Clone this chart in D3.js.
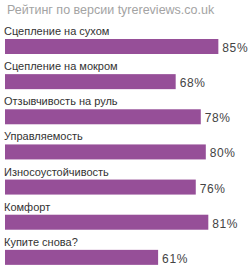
<!DOCTYPE html>
<html>
<head>
<meta charset="utf-8">
<script src="https://cdn.jsdelivr.net/npm/d3@7"></script>
<style>
body { margin:0; background:#fff; }
svg text { font-family: "Liberation Sans", Arial, sans-serif; }
</style>
</head>
<body>
<div id="chart"></div>
<script>
var title = "Рейтинг по версии tyrereviews.co.uk";
var categories = ["Сцепление на сухом", "Сцепление на мокром", "Отзывчивость на руль",
    "Управляемость", "Износоустойчивость", "Комфорт", "Купите снова?"];
var values = [85, 68, 78, 80, 76, 81, 61];

var width = 248, height = 272;

var svg = d3.select("#chart").append("svg")
    .attr("width", width)
    .attr("height", height);

// x: 0..100 percent
var x = d3.scaleLinear().domain([0, 100]).range([5, 256]);
var y = d3.scaleBand().domain(categories).range([28, 274]).paddingInner(0);

svg.append("text")
    .attr("x", 7)
    .attr("y", 14)
    .attr("fill", "#a3a3a3")
    .style("font-size", "12.5px")
    .text(title);

var row = svg.selectAll(".row")
    .data(categories)
    .enter()
    .append("g")
    .attr("class", "row")
    .attr("transform", function(d) { return "translate(0," + y(d) + ")"; });

row.append("text")
    .attr("x", 4)
    .attr("y", 7)
    .attr("fill", "#333")
    .style("font-size", "11px")
    .text(function(d) { return d; });

row.append("rect")
    .attr("x", x(0))
    .attr("y", 11)
    .attr("height", 15)
    .attr("width", function(d, i) { return x(values[i]) - x(0); })
    .attr("fill", "#964f98");

row.append("text")
    .attr("x", function(d, i) { return x(values[i]) + 4; })
    .attr("y", 24)
    .attr("fill", "#444")
    .style("font-size", "12px")
    .style("letter-spacing", "0.6px")
    .text(function(d, i) { return values[i] + "%"; });
</script>
</body>
</html>
